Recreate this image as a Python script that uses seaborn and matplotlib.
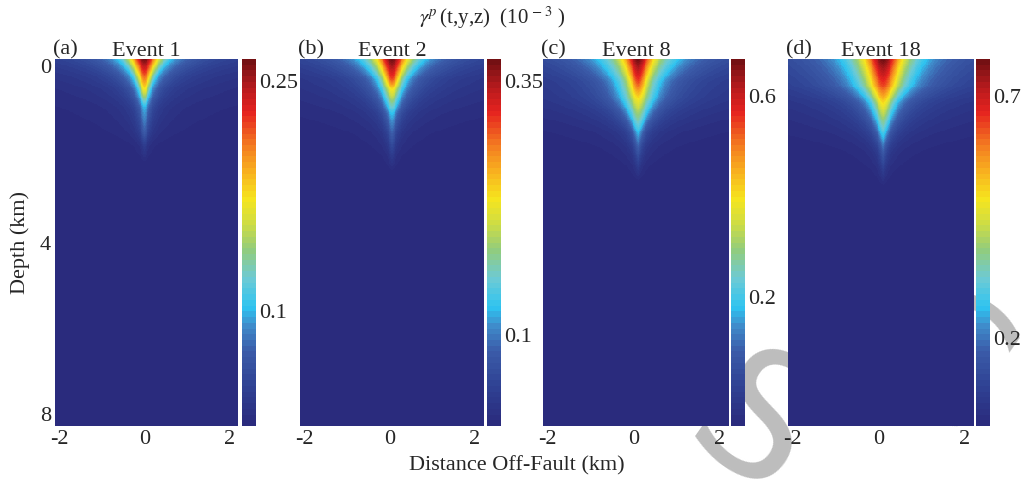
import numpy as np
import seaborn as sns
import matplotlib
matplotlib.use("Agg")
import matplotlib.pyplot as plt
from matplotlib.colors import LinearSegmentedColormap, FuncNorm

events = ["Event 1", "Event 2", "Event 8", "Event 18"]
panel_tags = ["(a)", "(b)", "(c)", "(d)"]

# labelled colour-bar values (lower, upper) and top of each colour scale (x10^-3)
cbar_ticks = [[0.1, 0.25], [0.1, 0.35], [0.2, 0.6], [0.2, 0.7]]
cbar_top = [0.264, 0.372, 0.674, 0.777]
# where the labelled values sit along each bar (0 = bottom, 1 = top)
cbar_tick_frac = [[0.312, 0.94], [0.247, 0.94], [0.351, 0.899], [0.241, 0.899]]

# strain on the fault trace against depth (km), and lateral half width (km)
depth_a = [0.0, 0.35, 0.65, 1.05, 1.6, 1.9, 2.3, 8.0]
peak_a = [0.264, 0.217, 0.174, 0.100, 0.064, 0.026, 0.0, 0.0]
width_a = [0.27, 0.17, 0.12, 0.10, 0.065, 0.05, 0.05, 0.05]

depth_b = [0.0, 0.44, 0.66, 1.2, 1.64, 2.1, 2.5, 8.0]
peak_b = [0.372, 0.307, 0.235, 0.126, 0.081, 0.032, 0.0, 0.0]
width_b = [0.29, 0.17, 0.17, 0.12, 0.07, 0.05, 0.05, 0.05]

depth_c = [0.0, 0.5, 0.87, 1.6, 1.93, 2.35, 2.7, 8.0]
peak_c = [0.674, 0.542, 0.396, 0.182, 0.114, 0.046, 0.0, 0.0]
width_c = [0.27, 0.19, 0.2, 0.1, 0.07, 0.05, 0.05, 0.05]

depth_d = [0.0, 0.58, 0.98, 1.7, 2.0, 2.45, 2.8, 8.0]
peak_d = [0.777, 0.64, 0.488, 0.26, 0.166, 0.066, 0.0, 0.0]
width_d = [0.36, 0.3, 0.2, 0.1, 0.07, 0.05, 0.05, 0.05]

# position of the fault trace in each panel (km)
trace_x = [0.0, 0.05, 0.1, 0.1]

profiles = [(depth_a, peak_a, width_a), (depth_b, peak_b, width_b),
            (depth_c, peak_c, width_c), (depth_d, peak_d, width_d)]

# render grid (cell centres)
dx, dz = 0.02, 0.02
x = np.arange(-2.1, 2.2 + 1e-9, dx)
z = np.arange(dz / 2, 8.0, dz)

cmap_pos = [0, 0.1, 0.2, 0.27, 0.32, 0.4, 0.48, 0.55, 0.62, 0.7, 0.77, 0.86, 0.93, 1]
cmap_hex = ["#2a2b7d", "#2f4193", "#3b5ca9", "#3f8ccb", "#2ec4f1", "#6dcad5", "#92cc7c",
            "#cddc45", "#f6e51e", "#f8ae1f", "#f37a21", "#e6231f", "#b51a1d", "#741013"]
cmap = LinearSegmentedColormap.from_list("strain", list(zip(cmap_pos, cmap_hex)), N=64)

sns.set_style("white")
plt.rcParams["font.family"] = ["Liberation Serif", "DejaVu Serif"]
plt.rcParams["mathtext.fontset"] = "stix"

W, H = 1034, 480
fig = plt.figure(figsize=(W / 100, H / 100), dpi=100)

ax_left = [55, 300, 543, 788]
ax_width = [183, 184, 186, 186]
cb_left = [242, 487, 731, 976]
bottom, height = 54, 367

for i in range(4):
    ax = fig.add_axes([ax_left[i] / W, bottom / H, ax_width[i] / W, height / H])
    cax = fig.add_axes([cb_left[i] / W, bottom / H, 14 / W, height / H])
    ax.set_zorder(5)
    cax.set_zorder(5)

    depth, peak, width = profiles[i]
    P = np.interp(z, depth, peak)[:, None]
    w = np.interp(z, depth, width)[:, None]
    field = P / np.sqrt(1 + ((x[None, :] - trace_x[i]) / w) ** 2)

    lo, hi = cbar_ticks[i]
    flo, fhi = cbar_tick_frac[i]
    pts = [0.0, lo, hi, cbar_top[i]]
    frs = [0.0, flo, fhi, 1.0]
    norm = FuncNorm((lambda v, p=pts, f=frs: np.interp(v, p, f),
                     lambda u, p=pts, f=frs: np.interp(u, f, p)),
                    vmin=0.0, vmax=cbar_top[i])

    sns.heatmap(field, ax=ax, cbar_ax=cax, cmap=cmap, norm=norm,
                xticklabels=False, yticklabels=False)

    ax.set_xticks([(t - x[0]) / dx + 0.5 for t in (-2, 0, 2)])
    ax.set_xticklabels(["-2", "0", "2"])
    if i == 0:
        ax.set_yticks([d / dz for d in (0, 4, 8)])
        labs = ax.set_yticklabels(["0", "4", "8"], rotation=0)
        labs[0].set_va("top")
        labs[2].set_va("bottom")
    else:
        ax.set_yticks([])
    ax.tick_params(length=0, labelsize=16, pad=3)

    ax.set_title(events[i], fontsize=16, pad=2)
    ax.text(-0.01, 1.0, panel_tags[i], transform=ax.transAxes, ha="left",
            va="bottom", fontsize=16)

    cax.set_yticks([lo, hi])
    cax.set_yticklabels([f"{lo:g}", f"{hi:g}"])
    cax.yaxis.set_ticks_position("right")
    cax.minorticks_off()
    cax.tick_params(length=0, labelsize=16, pad=2)

fig.text(492 / W, 1 - 18 / H, r"$\gamma^{p}\,$(t,y,z)  (10$^{\,-3}$ )",
         ha="center", va="center", fontsize=15)
fig.text(20 / W, 1 - 242 / H, "Depth (km)", rotation=90, ha="center",
         va="center", fontsize=16)
fig.text(517 / W, 1 - 466 / H, "Distance Off-Fault (km)", ha="center",
         va="center", fontsize=16)

# grey watermark letters behind the panels
fig.text(752 / W, 1 - 432 / H, "S", fontsize=125, color="#bdbdbd", rotation=-35,
         ha="center", va="center", family="DejaVu Sans", zorder=0)
fig.text(935 / W, 1 - 370 / H, "C", fontsize=125, color="#bdbdbd", rotation=-35,
         ha="center", va="center", family="DejaVu Sans", zorder=0)

fig.savefig("out.png", dpi=100, facecolor="white")
